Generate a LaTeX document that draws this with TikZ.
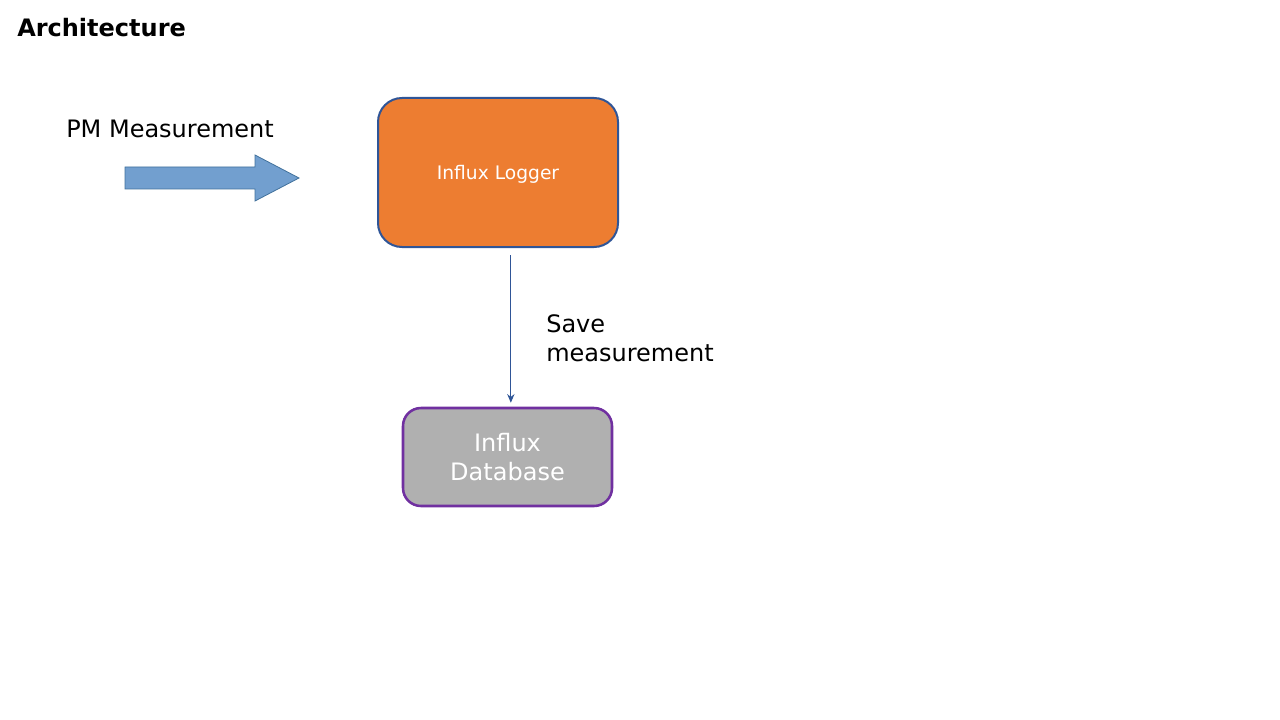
\documentclass[tikz,border=0pt]{standalone}
\usepackage{fontspec}
\setmainfont{DejaVu Sans}
\usetikzlibrary{arrows.meta, positioning}
\definecolor{o1}{HTML}{ED7D31}
\definecolor{b1}{HTML}{2F5597}
\definecolor{b2}{RGB}{114, 159, 207}
\definecolor{b3}{HTML}{41719C}
\definecolor{g1}{RGB}{176, 176, 176}
\definecolor{p1}{HTML}{7030A0}

\begin{document}
\begin{tikzpicture}[x=0.75pt, y=-0.75pt,
		box/.style={rounded corners, line width=1.5pt, text=white, align=center, inner sep=0pt},
		txt/.style={font=\fontsize{18}{21.6}\selectfont, inner sep=0pt}]

			\useasboundingbox (0,0) rectangle (1280,720);

			\node[txt, anchor=base west, font=\fontsize{18}{21.6}\selectfont\bfseries] (title) at (17,37) {Architecture};

			\node[txt, anchor=base west] (pm) at (66,138) {PM Measurement};
			\draw[b3, fill=b2, line width=0.6pt] (125,167) -- (255,167) -- (255,155) -- (299,178) -- (255,201) -- (255,189) -- (125,189) -- cycle;

			\node[box, draw=b1, fill=o1, minimum width=180pt, minimum height=111.75pt, rounded corners=18pt,
				font=\fontsize{14}{16.8}\selectfont, text height=14.5pt, text depth=3.3pt] (logger) at (498,172.5) {Influx Logger};

			\node[box, draw=p1, fill=g1, line width=1.9pt, minimum width=156.75pt, minimum height=73.5pt, rounded corners=13.5pt,
				font=\fontsize{18}{21.6}\selectfont] (db) at (507.5,457) {Influx\\Database};

			\draw[-{Stealth[length=6.5pt, width=5.5pt]}, b1, line width=0.75pt, shorten <=5.25pt, shorten >=3pt]
				([xshift=2.5]db.north |- logger.south) -- ([xshift=2.5]db.north);

			\node[txt, anchor=west, align=left] (save) at (546,338) {Save\\measurement};

		\end{tikzpicture}
\end{document}
